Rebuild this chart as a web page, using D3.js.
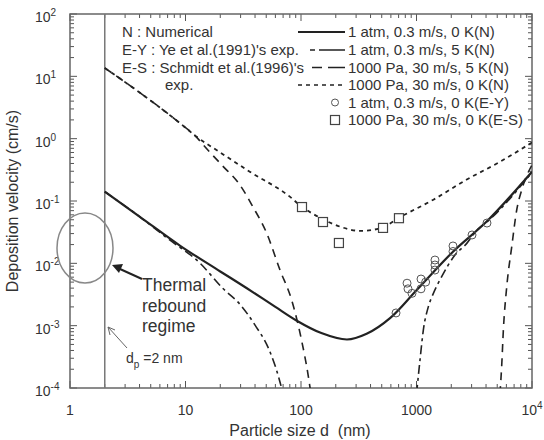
<!DOCTYPE html>
<html>
<head>
<meta charset="utf-8">
<script src="https://cdn.jsdelivr.net/npm/d3@7"></script>
<style>
    body { margin: 0; background: #fff; }
    text { font-family: "Liberation Sans", Arial, sans-serif; fill: #333; }
</style>
</head>
<body>
<svg id="chart" width="544" height="440"></svg>
<script>
// 1 atm, 0.3 m/s, 0 K (N)
var atm0K_d = [2, 4, 9, 20, 34, 60, 92, 150, 250, 370, 590, 1000, 2080, 4050, 10000];
var atm0K_v = [0.141, 0.0562, 0.0191, 0.00741, 0.00398, 0.0020, 0.0012, 0.00076, 0.0006, 0.00074, 0.00132, 0.0037, 0.0155, 0.0468, 0.295];
// 1 atm, 0.3 m/s, 5 K (N), two branches
var atm5Ka_d = [2, 4, 7, 13.4, 21, 30, 40, 53, 64, 70];
var atm5Ka_v = [0.141, 0.0562, 0.0251, 0.01, 0.00398, 0.00214, 0.00102, 0.00041, 0.00015, 0.00008];
var atm5Kb_d = [1000, 1072, 1146, 1265, 1400, 1652, 2153, 2723, 3319, 4050, 10000];
var atm5Kb_v = [0.00008, 0.00028, 0.00085, 0.002, 0.0033, 0.0061, 0.0136, 0.0209, 0.0339, 0.0457, 0.288];
// 1000 Pa, 30 m/s, 5 K (N), two branches
var pa5Ka_d = [2, 4.3, 9, 12.5, 14.3, 20.6, 29.6, 38, 50.5, 65.8, 83, 101, 116, 122];
var pa5Ka_v = [13.6, 5.0, 1.76, 1.05, 0.79, 0.378, 0.181, 0.083, 0.0303, 0.0078, 0.00258, 0.00059, 0.00015, 0.00008];
var pa5Kb_d = [5280, 5470, 5650, 6040, 6670, 7380, 8150, 10000];
var pa5Kb_v = [0.00008, 0.000234, 0.00085, 0.00417, 0.0182, 0.0724, 0.151, 0.38];
// 1000 Pa, 30 m/s, 0 K (N)
var pa0K_d = [2, 4.3, 9, 12.5, 20, 36, 80, 100, 150, 220, 330, 500, 720, 1400, 2700, 5300, 10000];
var pa0K_v = [13.6, 5.0, 1.76, 1.07, 0.60, 0.295, 0.1175, 0.083, 0.0525, 0.0385, 0.0331, 0.0372, 0.055, 0.105, 0.219, 0.427, 0.87];
// experiments
var ey_d = [665, 828, 844, 914, 1094, 1094, 1200, 1445, 1445, 1445, 2070, 2070, 3025, 4075];
var ey_v = [0.0016, 0.0048, 0.0039, 0.0033, 0.0056, 0.0039, 0.005, 0.0113, 0.0094, 0.0078, 0.019, 0.0155, 0.0285, 0.0443];
var es_d = [102, 155, 213, 513, 705];
var es_v = [0.080, 0.046, 0.0212, 0.037, 0.053];

var xTicks = [1, 10, 100, 1000, 10000];
var xTickLabels = ['1', '10', '100', '1000', '10|4'];
var yTicks = [1e-4, 1e-3, 1e-2, 1e-1, 1, 10, 100];
var yTickExp = ['-4', '-3', '-2', '-1', '0', '1', '2'];

var legendLabels = ['1 atm, 0.3 m/s, 0 K(N)', '1 atm, 0.3 m/s, 5 K(N)', '1000 Pa, 30 m/s, 5 K(N)',
    '1000 Pa, 30 m/s, 0 K(N)', '1 atm, 0.3 m/s, 0 K(E-Y)', '1000 Pa, 30 m/s, 0 K(E-S)'];
var noteLines = ['N : Numerical', 'E-Y : Ye et al.(1991)\'s exp.', 'E-S : Schmidt et al.(1996)\'s', 'exp.'];

var svg = d3.select('#chart');
var L = 70, R = 532, T = 14, B = 388;
var scX = d3.scaleLog().domain([1, 1e4]).range([L, R]);
var scY = d3.scaleLog().domain([1e-4, 1e2]).range([B, T]);

var minorX = [], minorY = [];
for (var e = 0; e < 4; e++) for (var k = 2; k < 10; k++) minorX.push(k * Math.pow(10, e));
for (var e2 = -4; e2 < 2; e2++) for (var k2 = 2; k2 < 10; k2++) minorY.push(k2 * Math.pow(10, e2));

// ticks
var tk = svg.append('g').attr('stroke', '#555').attr('stroke-width', 1);
function ticksX(vals, len) {
    vals.forEach(function (v) {
        tk.append('line').attr('x1', scX(v)).attr('x2', scX(v)).attr('y1', B).attr('y2', B - len);
        tk.append('line').attr('x1', scX(v)).attr('x2', scX(v)).attr('y1', T).attr('y2', T + len);
    });
}
function ticksY(vals, len) {
    vals.forEach(function (v) {
        tk.append('line').attr('y1', scY(v)).attr('y2', scY(v)).attr('x1', L).attr('x2', L + len);
        tk.append('line').attr('y1', scY(v)).attr('y2', scY(v)).attr('x1', R).attr('x2', R - len);
    });
}
ticksX(xTicks, 7); ticksX(minorX, 4);
ticksY(yTicks, 7); ticksY(minorY, 4);

svg.append('rect').attr('x', L).attr('y', T).attr('width', R - L).attr('height', B - T)
    .attr('fill', 'none').attr('stroke', '#666').attr('stroke-width', 1.5);

// tick labels
xTicks.forEach(function (v, i) {
    var p = xTickLabels[i].split('|');
    var t = svg.append('text').attr('x', scX(v)).attr('y', 415).attr('font-size', 14)
        .attr('text-anchor', 'middle').text(p[0]);
    if (p[1]) t.append('tspan').attr('dy', -6).attr('font-size', 10).text(p[1]);
});
yTicks.forEach(function (v, i) {
    var t = svg.append('text').attr('x', 35).attr('y', scY(v) + 8).attr('font-size', 14).text('10');
    t.append('tspan').attr('dy', -6).attr('font-size', 10).text(yTickExp[i]);
});

svg.append('text').attr('x', 300).attr('y', 436).attr('font-size', 16).attr('text-anchor', 'middle')
    .text('Particle size d \u00a0(nm)');
svg.append('text').attr('transform', 'translate(18,201) rotate(-90)').attr('font-size', 16)
    .attr('text-anchor', 'middle').text('Deposition velocity (cm/s)');

// d = 2 nm line
svg.append('line').attr('x1', scX(2)).attr('x2', scX(2)).attr('y1', T).attr('y2', B)
    .attr('stroke', '#777').attr('stroke-width', 1.5);

// curves
svg.append('clipPath').attr('id', 'clip').append('rect')
    .attr('x', L).attr('y', T).attr('width', R - L).attr('height', B - T);
var plot = svg.append('g').attr('clip-path', 'url(#clip)');
var line = d3.line().x(d => scX(d[0])).y(d => scY(d[1])).curve(d3.curveMonotoneX);
function curve(ds, vs, dash, w) {
    plot.append('path').datum(d3.zip(ds, vs)).attr('d', line)
        .attr('fill', 'none').attr('stroke', '#222').attr('stroke-width', w)
        .attr('stroke-dasharray', dash);
}
var dashes = [null, '9,4,3,4', '8,6', '4,4'];
curve(pa0K_d, pa0K_v, dashes[3], 1.8);
curve(pa5Ka_d, pa5Ka_v, dashes[2], 1.6);
curve(pa5Kb_d, pa5Kb_v, dashes[2], 1.6);
curve(atm5Ka_d, atm5Ka_v, dashes[1], 1.6);
curve(atm5Kb_d, atm5Kb_v, dashes[1], 1.6);
curve(atm0K_d, atm0K_v, dashes[0], 2.2);

plot.selectAll('circle.ey').data(d3.zip(ey_d, ey_v)).enter().append('circle')
    .attr('cx', d => scX(d[0])).attr('cy', d => scY(d[1])).attr('r', 4)
    .attr('fill', 'none').attr('stroke', '#555').attr('stroke-width', 1);
plot.selectAll('rect.es').data(d3.zip(es_d, es_v)).enter().append('rect')
    .attr('x', d => scX(d[0]) - 4.5).attr('y', d => scY(d[1]) - 4.5).attr('width', 9).attr('height', 9)
    .attr('fill', '#fff').attr('stroke', '#444').attr('stroke-width', 1.2);

// legend
var rows = [37, 55, 72.5, 90, 107.5, 125];
noteLines.forEach(function (s, i) {
    svg.append('text').attr('x', i === 3 ? 165 : 122).attr('y', rows[i]).attr('font-size', 15).text(s);
});
legendLabels.forEach(function (s, i) {
    var y = rows[i] - 5;
    if (i < 4) {
        svg.append('line').attr('x1', 298).attr('x2', 345).attr('y1', y).attr('y2', y)
            .attr('stroke', '#222').attr('stroke-width', i === 0 ? 2.2 : 1.6)
            .attr('stroke-dasharray', i === 1 ? '0,12,5,4,20' : i === 2 ? '0,14,10,6,14' : dashes[i]);
    } else if (i === 4) {
        svg.append('circle').attr('cx', 335).attr('cy', y).attr('r', 3.5)
            .attr('fill', 'none').attr('stroke', '#555');
    } else {
        svg.append('rect').attr('x', 330.5).attr('y', y - 4.5).attr('width', 9).attr('height', 9)
            .attr('fill', '#fff').attr('stroke', '#444').attr('stroke-width', 1.2);
    }
    svg.append('text').attr('x', 348).attr('y', rows[i]).attr('font-size', 15).text(s);
});

// thermal rebound annotation
svg.append('ellipse').attr('cx', 85).attr('cy', 248).attr('rx', 28).attr('ry', 35)
    .attr('fill', 'none').attr('stroke', '#888').attr('stroke-width', 1.5);
svg.append('line').attr('x1', 142).attr('y1', 279).attr('x2', 120).attr('y2', 269)
    .attr('stroke', '#222').attr('stroke-width', 2);
svg.append('path').attr('d', 'M112,265 L123,264 L119,273 Z').attr('fill', '#222');
['Thermal', 'rebound', 'regime'].forEach(function (s, i) {
    svg.append('text').attr('x', 142).attr('y', 291 + i * 20.5).attr('font-size', 17.5).text(s);
});

// d_p = 2 nm annotation
svg.append('path').attr('d', 'M127,348 L108,327 M108,327 L110,335 M108,327 L115,330')
    .attr('fill', 'none').attr('stroke', '#666').attr('stroke-width', 1);
var dp = svg.append('text').attr('x', 126).attr('y', 363).attr('font-size', 14).attr('fill', '#555').text('d');
dp.append('tspan').attr('dy', 5).attr('font-size', 10).text('p');
dp.append('tspan').attr('dy', -5).text(' =2 nm');
</script>
</body>
</html>
